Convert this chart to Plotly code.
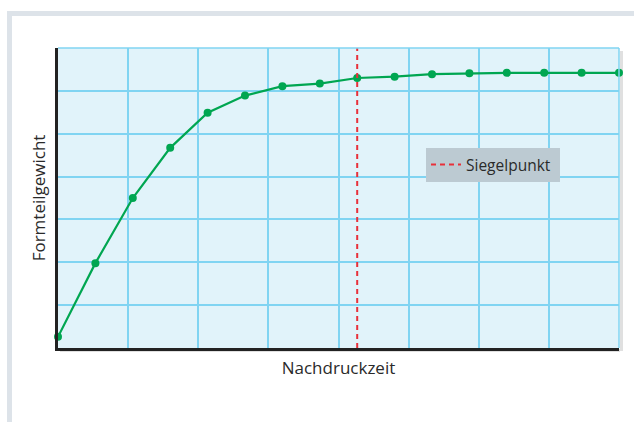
import plotly.graph_objects as go

zeit = list(range(16))
gewicht = [0.26, 1.98, 3.50, 4.67, 5.49, 5.89, 6.11, 6.17, 6.30, 6.33, 6.39, 6.41, 6.42, 6.42, 6.42, 6.42]
siegel_x = [8, 8]
siegel_y = [0, 7]
legend_name = "Siegelpunkt\u00a0"

W, H = 634, 422
L, R, T, B = 58, 15, 48, 74
pw, ph = W - L - R, H - T - B

def px(x):
    return (x - L) / pw

def py(y):
    return (H - B - y) / ph

fig = go.Figure()
fig.add_trace(go.Scatter(
    x=zeit, y=gewicht, mode="lines+markers",
    line=dict(color="#00a651", width=2.2),
    marker=dict(color="#00a651", size=8),
    showlegend=False, cliponaxis=False, hoverinfo="skip",
))
fig.add_trace(go.Scatter(
    x=siegel_x, y=siegel_y, mode="lines", name=legend_name,
    line=dict(color="#e8303a", width=2, dash="5px,4px"),
    showlegend=True, hoverinfo="skip",
))

grid_col = "#80d4f2"
fig.update_xaxes(
    range=[0, 15], tick0=0, dtick=15 / 8, showticklabels=False, ticks="",
    showgrid=True, gridcolor=grid_col, gridwidth=1.5, zeroline=False,
    showline=True, linecolor="#222222", linewidth=2.5,
    title=dict(text="Nachdruckzeit", font=dict(size=17, color="#2a2a2a"), standoff=13),
)
fig.update_yaxes(
    range=[0, 7], tick0=0, dtick=1, showticklabels=False, ticks="",
    showgrid=True, gridcolor=grid_col, gridwidth=1.5, zeroline=False,
    showline=True, linecolor="#222222", linewidth=2.5,
    title=dict(text="Formteilgewicht", font=dict(size=17, color="#2a2a2a"), standoff=6),
)

frame = "#dde3e9"
shapes = [
    dict(type="rect", xref="paper", yref="paper", x0=px(7), x1=px(634), y0=py(16), y1=py(11),
         fillcolor=frame, line=dict(width=0), layer="below"),
    dict(type="rect", xref="paper", yref="paper", x0=px(7), x1=px(12), y0=py(422), y1=py(16),
         fillcolor=frame, line=dict(width=0), layer="below"),
    dict(type="rect", xref="paper", yref="paper", x0=px(620), x1=px(623), y0=py(351), y1=py(51),
         fillcolor="rgba(0,0,0,0.12)", line=dict(width=0), layer="below"),
    dict(type="rect", xref="paper", yref="paper", x0=px(60), x1=px(620), y0=py(352), y1=py(349),
         fillcolor="rgba(0,0,0,0.12)", line=dict(width=0), layer="below"),
    dict(type="line", xref="paper", yref="paper", x0=0, x1=1, y0=1, y1=1,
         line=dict(color=grid_col, width=1.5)),
    dict(type="line", xref="paper", yref="paper", x0=1, x1=1, y0=0, y1=1,
         line=dict(color=grid_col, width=1.5)),
]

fig.update_layout(
    width=W, height=H, autosize=False,
    margin=dict(l=L, r=R, t=T, b=B),
    paper_bgcolor="white", plot_bgcolor="#e1f3fa",
    font=dict(family="Open Sans, sans-serif", color="#2a2a2a"),
    shapes=shapes,
    legend=dict(
        x=px(426), y=py(148), xanchor="left", yanchor="top",
        bgcolor="#bccad2", borderwidth=0,
        font=dict(size=15.5, color="#2a2a2a"),
        itemwidth=30,
    ),
)

fig.write_html(
    "out.html",
    config={"displayModeBar": False, "responsive": False},
    post_script="document.body.style.margin='0';",
)
